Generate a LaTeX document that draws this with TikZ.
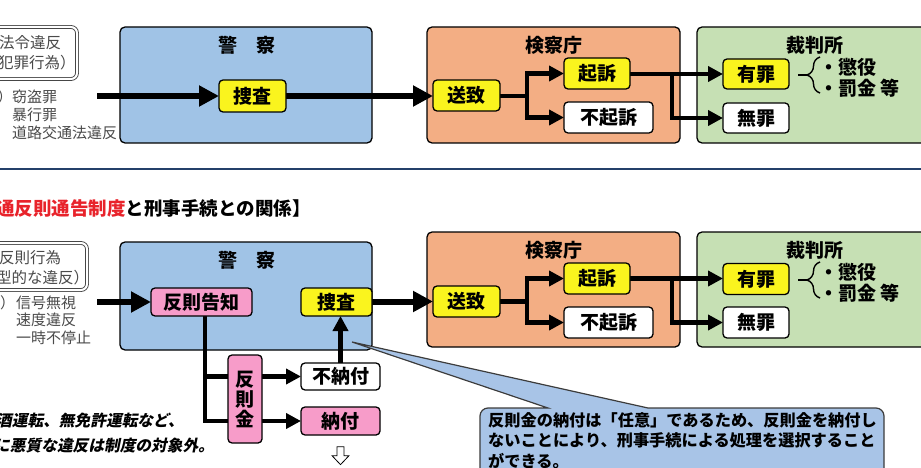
\documentclass[tikz,border=0pt]{standalone}
\usepackage{fontspec}
\setmainfont{Noto Sans CJK JP}
\newfontfamily\shatai[FakeSlant=0.2]{Noto Sans CJK JP}
\usetikzlibrary{arrows.meta,decorations.pathreplacing}
\definecolor{keisatsu}{HTML}{A0C3E6}
\definecolor{kensatsu}{HTML}{F3AE84}
\definecolor{saiban}{HTML}{C6E0B4}
\definecolor{kiiro}{HTML}{FAF41E}
\definecolor{momo}{HTML}{F79CC9}
\definecolor{fukidashi}{HTML}{A8C4E7}
\definecolor{akamoji}{HTML}{E8232B}
\definecolor{kugiri}{HTML}{24406A}
\definecolor{haiiro}{HTML}{3C3C3C}
\definecolor{usuzumi}{HTML}{4A4A4A}

\begin{document}
\begin{tikzpicture}[x=1pt,y=-1pt]
 \tikzstyle{waku}=[draw=black, line width=1.3pt, rounded corners=5pt, inner sep=0pt]
 \tikzstyle{koumoku}=[draw=black, line width=1.3pt, rounded corners=4pt, inner sep=0pt, font=\fontsize{19}{20}\selectfont\bfseries]
 \tikzstyle{midashi}=[font=\fontsize{19}{20}\selectfont\bfseries, inner sep=0pt]
 \tikzstyle{nijuwaku}=[draw=gray!55!black, double=white, double distance=2pt, line width=0.9pt, rounded corners=6pt, fill=white]
 \tikzstyle{hidari}=[font=\fontsize{15.5}{20}\selectfont, text=usuzumi, inner sep=0pt, anchor=west]
 \tikzstyle{reibun}=[font=\fontsize{15}{18}\selectfont, text=usuzumi, inner sep=0pt, anchor=west, align=left]
 \tikzstyle{futoya}=[-{Triangle[length=20pt,width=20pt]}, line width=6pt]
 \tikzstyle{hosoya}=[-{Triangle[length=15pt,width=15pt]}, line width=4.5pt]
 \tikzstyle{hososen}=[line width=4.5pt]
 %
 \useasboundingbox (0,0) rectangle (921,468);
 \clip (0,0) rectangle (921,468);
 \draw[line width=2.2pt, kugiri] (-5,169) -- (930,169);
 %
 % --- upper part ---
 \node[nijuwaku, minimum width=117pt, minimum height=52pt] (hourei) at (18.5,53) {};
 \node[hidari] (hourei1) at (-1,43) {法令違反};
 \node[hidari] (hourei2) at (-2,63) {犯罪行為）};
 \node[reibun] (rei1k) at (-2.5,97) {）};
 \node[reibun] (rei1) at (12,115) {窃盗罪\\暴行罪\\道路交通法違反};
 %
 \node[waku, fill=keisatsu, minimum width=252pt, minimum height=116pt] (keisatsu1) at (246,85) {};
 \node[waku, fill=kensatsu, minimum width=253pt, minimum height=116pt] (kensatsu1) at (553.5,85) {};
 \node[waku, fill=saiban, minimum width=243pt, minimum height=116pt] (saiban1) at (818.5,85) {};
 \node[midashi] (t1a) at (247,45) {警　察};
 \node[midashi] (t1b) at (553.5,45) {検察庁};
 \node[midashi] (t1c) at (815,45) {裁判所};
 %
 \coordinate (in1) at (97,96);
 \coordinate (bun1) at (527,96);
 \coordinate (bun1b) at (672,74);
 \draw[futoya] (in1) -- (219,96);
 \draw[futoya] (286,96) -- (433,96);
 \draw[hososen] (500,96) -- (bun1);
 \draw[hosoya] (bun1) |- (564,73.5);
 \draw[hosoya] (bun1) |- (564,117.5);
 \draw[hososen] (630,74) -- (bun1b);
 \draw[hosoya] (bun1b) -- (723,74);
 \draw[hosoya] (bun1b) |- (723,118);
 %
 \node[koumoku, fill=kiiro, minimum width=67pt, minimum height=32pt] (sousa1) at (252.5,96) {捜査};
 \node[koumoku, fill=kiiro, minimum width=67pt, minimum height=31pt] (souchi1) at (466.5,95.5) {送致};
 \node[koumoku, fill=kiiro, minimum width=66pt, minimum height=31pt] (kiso1) at (597,73.5) {起訴};
 \node[koumoku, fill=white, minimum width=89pt, minimum height=31pt] (fukiso1) at (608.5,117.5) {不起訴};
 \node[koumoku, fill=kiiro, minimum width=66pt, minimum height=30pt] (yuuzai1) at (756,74) {有罪};
 \node[koumoku, fill=white, minimum width=66pt, minimum height=30pt] (muzai1) at (756,118) {無罪};
 \draw[decorate, decoration={brace, amplitude=13pt}, line width=1.4pt] (820,93) -- (820,57);
 \draw[line width=1.4pt] (798,75) -- (807,75);
 \node[midashi, anchor=west] (choueki1) at (819,67) {・懲役};
 \node[midashi, anchor=west] (bakkin1) at (819,88) {・罰金 等};
 %
 % --- lower part ---
 \node[anchor=west, font=\fontsize{18.5}{20}\selectfont\bfseries, inner sep=0pt] (daimei) at (-4,208) {\textcolor{akamoji}{通反則通告制度}と刑事手続との関係】};
 \node[nijuwaku, minimum width=127pt, minimum height=47pt] (hansokukoui) at (23.5,266.5) {};
 \node[hidari] (hansokukoui1) at (-1,258) {反則行為};
 \node[hidari] (hansokukoui2) at (-4,278) {型的な違反）};
 \node[reibun] (rei2k) at (0,303) {）};
 \node[reibun, font=\fontsize{15}{17.5}\selectfont] (rei2) at (16,320) {信号無視\\速度違反\\一時不停止};
 %
 \node[waku, fill=keisatsu, minimum width=252pt, minimum height=108pt] (keisatsu2) at (246,296) {};
 \node[waku, fill=kensatsu, minimum width=253pt, minimum height=115pt] (kensatsu2) at (553.5,289.5) {};
 \node[waku, fill=saiban, minimum width=243pt, minimum height=115pt] (saiban2) at (818.5,289.5) {};
 \node[midashi] (t2a) at (247,260) {警　察};
 \node[midashi] (t2b) at (553.5,250) {検察庁};
 \node[midashi] (t2c) at (815,250) {裁判所};
 %
 \coordinate (in2) at (97,302);
 \coordinate (bun2) at (527,301.5);
 \coordinate (bun2b) at (672,278.5);
 \coordinate (bun3) at (205,316);
 \draw[futoya] (in2) -- (151,302);
 \draw[futoya] (372,301.5) -- (433,301.5);
 \draw[hososen] (500,301.5) -- (bun2);
 \draw[hosoya] (bun2) |- (564,278.5);
 \draw[hosoya] (bun2) |- (564,322.5);
 \draw[hososen] (630,278.5) -- (bun2b);
 \draw[hosoya] (bun2b) -- (723,278.5);
 \draw[hosoya] (bun2b) |- (723,322.5);
 \draw[hosoya] (bun3) |- (301,376.5);
 \draw[hosoya] (bun3) |- (301,421);
 \draw[hosoya] (340.5,363) -- (340.5,316);
 %
 \node[koumoku, fill=momo, minimum width=101pt, minimum height=28pt] (kokuchi) at (201.5,302) {反則告知};
 \node[koumoku, fill=kiiro, minimum width=71pt, minimum height=28pt] (sousa2) at (336.5,302) {捜査};
 \node[koumoku, fill=kiiro, minimum width=67pt, minimum height=31pt] (souchi2) at (466.5,301.5) {送致};
 \node[koumoku, fill=kiiro, minimum width=66pt, minimum height=31pt] (kiso2) at (597,278.5) {起訴};
 \node[koumoku, fill=white, minimum width=89pt, minimum height=31pt] (fukiso2) at (608.5,322.5) {不起訴};
 \node[koumoku, fill=kiiro, minimum width=66pt, minimum height=31pt] (yuuzai2) at (756,279) {有罪};
 \node[koumoku, fill=white, minimum width=66pt, minimum height=31pt] (muzai2) at (756,322.5) {無罪};
 \node[koumoku, fill=momo, minimum width=34pt, minimum height=88pt, align=center] (hansokukin) at (245,399) {反\\則\\金};
 \node[koumoku, fill=white, minimum width=79pt, minimum height=27pt] (funoufu) at (340.5,376.5) {不納付};
 \node[koumoku, fill=momo, minimum width=79pt, minimum height=28pt] (noufu) at (340.5,421) {納付};
 \draw[decorate, decoration={brace, amplitude=13pt}, line width=1.4pt] (820,298) -- (820,262);
 \draw[line width=1.4pt] (798,280) -- (807,280);
 \node[midashi, anchor=west] (choueki2) at (819,272) {・懲役};
 \node[midashi, anchor=west] (bakkin2) at (819,293) {・罰金 等};
 \draw[fill=white, line width=0.8pt, shift={(noufu.south)}] (-3.5,11) -- (3.5,11) -- (3.5,20) -- (8.5,20) -- (0,29) -- (-8.5,20) -- (-3.5,20) -- cycle;
 %
 \node[anchor=west, font=\shatai\fontsize{15.7}{20}\selectfont\bfseries, inner sep=0pt] (chuui1) at (-4,420) {酒運転、無免許運転など、};
 \node[anchor=west, font=\shatai\fontsize{15.7}{20}\selectfont\bfseries, inner sep=0pt] (chuui2) at (-6,446) {に悪質な違反は制度の対象外。};
 %
 \draw[fill=fukidashi, line width=1.2pt, draw=haiiro] (548,408) -- (352,342) -- (648,408) -- (876,408) arc (-90:0:8) -- (884,480) -- (480,480) -- (480,416) arc (180:270:8) -- cycle;
 \node[anchor=north west, align=left, font=\fontsize{16.2}{20.5}\selectfont\bfseries, inner sep=0pt] (setsumei) at (488,412) {反則金の納付は「任意」であるため、反則金を納付し\\ないことにより、刑事手続による処理を選択すること\\ができる。};
\end{tikzpicture}
\end{document}
